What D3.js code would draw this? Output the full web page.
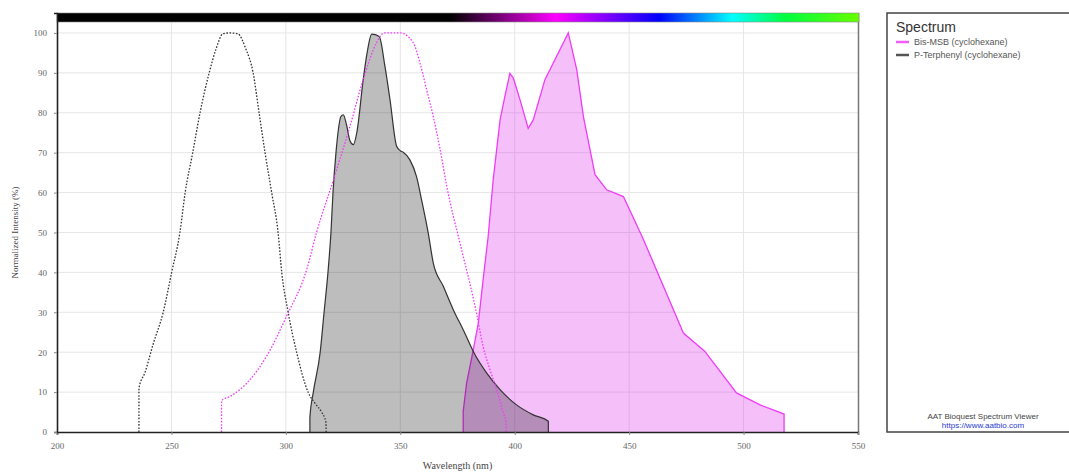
<!DOCTYPE html>
<html>
<head>
<meta charset="utf-8">
<script src="https://cdn.jsdelivr.net/npm/d3@7"></script>
<style>
  html, body { margin: 0; padding: 0; background: #fff; }
  svg { display: block; }
</style>
</head>
<body>
<svg id="chart" width="1069" height="473"></svg>
<script>
// Spectra: [wavelength (nm), normalized intensity (%)]
const terphenylAbs = [
  [235.8, 0], [235.8, 11], [238.5, 15], [242, 22], [246.4, 30], [250.1, 40], [253.7, 50],
  [256, 60], [259.3, 70], [262.5, 80], [266.5, 90], [269.5, 96], [272.5, 99.8], [275.5, 100],
  [279, 99.8], [282.5, 96], [285.7, 90], [288.3, 80], [290.9, 70], [293.8, 60], [296.6, 50],
  [298.2, 40], [301, 30], [304.7, 20], [309.7, 10], [313, 7], [315.6, 5], [317.5, 2.5], [317.6, 0]
];
const terphenylEm = [
  [310.5, 0], [310.5, 3.6], [312, 10], [315, 20], [316.7, 30], [318.4, 40], [319.7, 50],
  [320.6, 60], [321.9, 70], [323, 76], [324, 79], [325.1, 79.5], [326.5, 77], [328, 73],
  [329.5, 72], [331, 75], [333.8, 88.3], [335.5, 95], [337.5, 99.7], [340.8, 99.1],
  [343.3, 91.6], [345.5, 83.3], [348.4, 71.6], [350, 70.5], [351.3, 70.1], [354.2, 68.2],
  [357.1, 64], [359.3, 58.2], [362.2, 49.9], [364.4, 42.4], [368.8, 36.5], [373.2, 30.6],
  [377.5, 25.6], [382.6, 19.4], [387.7, 14.8], [393.6, 10.6], [400.8, 6.8], [408.1, 4.3],
  [414.7, 2.7], [414.7, 0]
];
const bisMsbAbs = [
  [271.9, 0], [271.9, 7.9], [275.6, 8.9], [284.3, 13.1], [291.6, 19], [300.3, 29],
  [309.1, 40.7], [313.4, 50], [320.7, 63], [328, 76.6], [333.8, 88.3], [339.6, 97.5],
  [343, 100], [350, 100], [355.7, 97.5], [358.6, 92.5], [361.5, 85.8], [364.4, 79.1],
  [367.4, 70.8], [370.3, 61.6], [373.2, 54], [375.4, 49], [377.5, 44], [380.4, 37.3],
  [383.3, 29.8], [386.2, 21.4], [389.2, 15.6], [392.1, 10.6], [395, 4.8], [396.2, 2.3],
  [396.3, 0]
];
const bisMsbEm = [
  [377.5, 0], [377.5, 5.2], [379, 12.3], [381.9, 20.6], [384.1, 27.3], [386.2, 38.2],
  [388.4, 49], [390.6, 63.2], [393.6, 78.2], [395.7, 84.1], [397.9, 89.9], [399.4, 88.7],
  [402.3, 83.3], [405.9, 76.1], [408.1, 78.2], [413.2, 88.3], [423.4, 100], [427.1, 90.8],
  [430, 79.1], [435.1, 64.5], [440.2, 60.7], [447.5, 59], [456.2, 48.3], [473.7, 24.8],
  [483.1, 20.2], [496.9, 9.8], [507.2, 6.8], [517.7, 4.5], [517.7, 0]
];

const xTicks = [200, 250, 300, 350, 400, 450, 500, 550];
const yTicks = [0, 10, 20, 30, 40, 50, 60, 70, 80, 90, 100];
const legendNames = ["Bis-MSB (cyclohexane)", "P-Terphenyl (cyclohexane)"];
const legendColors = ["#f05cf5", "#555555"];

// Wavelength colour bar stops
const barStops = [
  [200, "#000000"], [372, "#000000"], [418, "#ff00ff"], [440, "#8000ff"],
  [463, "#0000ff"], [495, "#00ffff"], [518, "#00ff40"], [550, "#66ff00"]
];

const svg = d3.select("#chart");
const m = { left: 57, right: 858, top: 13, bottom: 432 };

const x = d3.scaleLinear().domain([200, 550]).range([m.left, m.right]);
const y = d3.scaleLinear().domain([0, 105]).range([m.bottom, m.top]);

// Gridlines
const grid = svg.append("g");
grid.selectAll("line.v").data(xTicks.slice(1, -1)).join("line")
  .attr("x1", d => x(d)).attr("x2", d => x(d))
  .attr("y1", m.top).attr("y2", m.bottom)
  .attr("stroke", "#e6e6e6").attr("stroke-width", 1);
grid.selectAll("line.h").data(yTicks.slice(1)).join("line")
  .attr("x1", m.left).attr("x2", m.right)
  .attr("y1", d => y(d)).attr("y2", d => y(d))
  .attr("stroke", "#e6e6e6").attr("stroke-width", 1);

// Right frame edge
svg.append("line")
  .attr("x1", m.right + 0.5).attr("x2", m.right + 0.5)
  .attr("y1", m.top).attr("y2", m.bottom)
  .attr("stroke", "#777").attr("stroke-width", 1.5);

const area = d3.area().x(d => x(d[0])).y0(y(0)).y1(d => y(d[1]));
const lineL = d3.line().x(d => x(d[0])).y(d => y(d[1]));
const line = d3.line().x(d => x(d[0])).y(d => y(d[1])).curve(d3.curveMonotoneX);
const areaS = d3.area().x(d => x(d[0])).y0(y(0)).y1(d => y(d[1])).curve(d3.curveMonotoneX);

// Bis-MSB emission
svg.append("path").datum(bisMsbEm).attr("d", area)
  .attr("fill", "rgb(214,0,236)").attr("fill-opacity", 0.25);
svg.append("path").datum(bisMsbEm).attr("d", lineL)
  .attr("fill", "none").attr("stroke", "#ee3cf8").attr("stroke-width", 1.3);

// P-Terphenyl emission
svg.append("path").datum(terphenylEm).attr("d", areaS)
  .attr("fill", "rgb(0,0,0)").attr("fill-opacity", 0.26);
svg.append("path").datum(terphenylEm).attr("d", line)
  .attr("fill", "none").attr("stroke", "#333").attr("stroke-width", 1.2);

// Absorption (dotted)
svg.append("path").datum(bisMsbAbs).attr("d", line)
  .attr("fill", "none").attr("stroke", "#f03cf8").attr("stroke-width", 1.3)
  .attr("stroke-dasharray", "1.6,1.6");
svg.append("path").datum(terphenylAbs).attr("d", line)
  .attr("fill", "none").attr("stroke", "#333").attr("stroke-width", 1.3)
  .attr("stroke-dasharray", "1.6,1.6");

// Colour bar
const defs = svg.append("defs");
const grad = defs.append("linearGradient").attr("id", "wl")
  .attr("gradientUnits", "userSpaceOnUse")
  .attr("x1", x(200)).attr("x2", x(550)).attr("y1", 0).attr("y2", 0);
grad.selectAll("stop").data(barStops).join("stop")
  .attr("offset", d => (d[0] - 200) / 350)
  .attr("stop-color", d => d[1]);
svg.append("rect")
  .attr("x", m.left).attr("y", m.top)
  .attr("width", m.right - m.left + 1).attr("height", 9)
  .attr("fill", "url(#wl)").attr("stroke", "#888").attr("stroke-width", 0.6);

// Axes
const axisFont = "'Liberation Serif', 'DejaVu Serif', serif";
const xAxis = svg.append("g").attr("transform", `translate(0,${m.bottom})`)
  .call(d3.axisBottom(x).tickValues(xTicks).tickSize(3).tickPadding(8));
const yAxis = svg.append("g").attr("transform", `translate(${m.left},0)`)
  .call(d3.axisLeft(y).tickValues(yTicks).tickSize(3).tickPadding(7));
[xAxis, yAxis].forEach(g => {
  g.select(".domain").attr("stroke", "#222").attr("stroke-width", 1.6);
  g.selectAll(".tick line").attr("stroke", "#888");
  g.selectAll(".tick text").attr("fill", "#666")
    .style("font-family", axisFont).style("font-size", "9px");
});

svg.append("text")
  .attr("x", x(375)).attr("y", 469)
  .attr("text-anchor", "middle")
  .style("font-family", axisFont).style("font-size", "10px").attr("fill", "#444")
  .text("Wavelength (nm)");
svg.append("text")
  .attr("transform", `translate(18,${(m.top + m.bottom) / 2 + 10}) rotate(-90)`)
  .attr("text-anchor", "middle")
  .style("font-family", axisFont).style("font-size", "9px").attr("fill", "#444")
  .text("Normalized Intensity (%)");

// Legend panel
const lg = svg.append("g");
lg.append("rect")
  .attr("x", 887).attr("y", 13).attr("width", 200).attr("height", 419)
  .attr("fill", "#fff").attr("stroke", "#444").attr("stroke-width", 1.5);
lg.append("text").attr("x", 896).attr("y", 32)
  .style("font-family", "'Liberation Sans', Arial, sans-serif").style("font-size", "14px")
  .attr("fill", "#333").text("Spectrum");
legendNames.forEach((name, i) => {
  const yy = 42 + i * 13;
  lg.append("line").attr("x1", 896).attr("x2", 909).attr("y1", yy).attr("y2", yy)
    .attr("stroke", legendColors[i]).attr("stroke-width", 2.5);
  lg.append("text").attr("x", 914).attr("y", yy + 3)
    .style("font-family", "'Liberation Sans', Arial, sans-serif").style("font-size", "9px")
    .attr("fill", "#555").text(name);
});
lg.append("text").attr("x", 983).attr("y", 419).attr("text-anchor", "middle")
  .style("font-family", "'Liberation Sans', Arial, sans-serif").style("font-size", "8px")
  .attr("fill", "#444").text("AAT Bioquest Spectrum Viewer");
lg.append("text").attr("x", 983).attr("y", 428).attr("text-anchor", "middle")
  .style("font-family", "'Liberation Sans', Arial, sans-serif").style("font-size", "8px")
  .attr("fill", "#2b3bd6").text("https://www.aatbio.com");
</script>
</body>
</html>
